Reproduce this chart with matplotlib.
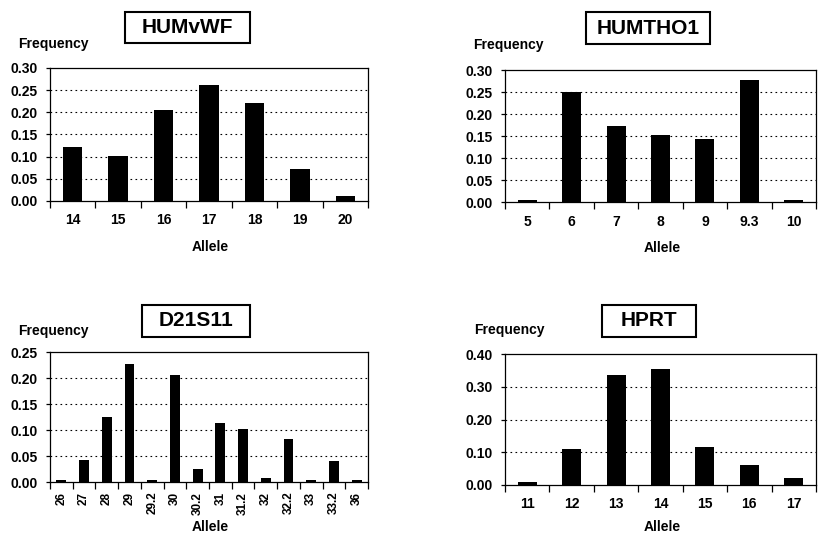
import matplotlib
matplotlib.use("Agg")
import matplotlib.pyplot as plt
from matplotlib.patches import Rectangle
from matplotlib.ticker import FormatStrFormatter

plt.rcParams['font.family'] = ['Liberation Sans', 'DejaVu Sans']
plt.rcParams['font.weight'] = 'bold'

# ---- data ----
vwf_alleles = ['14', '15', '16', '17', '18', '19', '20']
vwf_freq = [0.121, 0.102, 0.205, 0.262, 0.220, 0.073, 0.011]

tho1_alleles = ['5', '6', '7', '8', '9', '9.3', '10']
tho1_freq = [0.005, 0.251, 0.172, 0.153, 0.143, 0.277, 0.005]

d21_alleles = ['26', '27', '28', '29', '29.2', '30', '30.2', '31', '31.2',
               '32', '32.2', '33', '33.2', '36']
d21_freq = [0.004, 0.042, 0.125, 0.226, 0.004, 0.205, 0.025, 0.113, 0.101,
            0.008, 0.083, 0.003, 0.041, 0.004]

hprt_alleles = ['11', '12', '13', '14', '15', '16', '17']
hprt_freq = [0.008, 0.109, 0.337, 0.355, 0.116, 0.061, 0.021]

W, H = 818, 534
fig = plt.figure(figsize=(W / 100, H / 100), dpi=100)


def px_rect(x0, y0, x1, y1):
    return [x0 / W, 1 - y1 / H, (x1 - x0) / W, (y1 - y0) / H]


panels = [
    dict(name='HUMvWF', cats=vwf_alleles, vals=vwf_freq, ymax=0.30, step=0.05,
         ax=(50, 68, 368, 201), box=(125, 12, 250, 43), freq=(18, 44),
         allele=(210, 247), rot=0),
    dict(name='HUMTHO1', cats=tho1_alleles, vals=tho1_freq, ymax=0.30, step=0.05,
         ax=(505, 70, 816, 202), box=(586, 12, 710, 44), freq=(473, 45),
         allele=(662, 248), rot=0),
    dict(name='D21S11', cats=d21_alleles, vals=d21_freq, ymax=0.25, step=0.05,
         ax=(50, 352, 368, 482), box=(142, 305, 250, 337), freq=(18, 331),
         allele=(210, 527), rot=90),
    dict(name='HPRT', cats=hprt_alleles, vals=hprt_freq, ymax=0.40, step=0.10,
         ax=(505, 354, 816, 485), box=(602, 305, 696, 337), freq=(474, 330),
         allele=(662, 527), rot=0),
]

for p in panels:
    ax = fig.add_axes(px_rect(*p['ax']))
    n = len(p['cats'])
    x = list(range(n))
    ax.bar(x, p['vals'], width=0.43, color='black', zorder=3)
    ax.set_xlim(-0.5, n - 0.5)
    ax.set_ylim(0, p['ymax'])
    nt = int(round(p['ymax'] / p['step']))
    yt = [i * p['step'] for i in range(nt + 1)]
    ax.set_yticks(yt)
    ax.yaxis.set_major_formatter(FormatStrFormatter('%.2f'))
    for y in yt[1:-1]:
        ax.axhline(y, color='black', lw=0.8, ls=(0, (1.5, 3)), zorder=1)
    ax.set_xticks(x)
    ax.set_xticklabels(p['cats'], rotation=p['rot'])
    ax.tick_params(axis='x', which='major', length=0, pad=9 if p['rot'] == 0 else 7,
                   labelsize=10 if p['rot'] == 0 else 8.5)
    ax.set_xticks([i - 0.5 for i in range(n + 1)], minor=True)
    ax.tick_params(axis='x', which='minor', length=5, width=0.9, direction='out')
    ax.tick_params(axis='y', length=3, width=0.9, direction='out', labelsize=10, pad=6)
    for lab in ax.get_xticklabels() + ax.get_yticklabels():
        lab.set_fontweight('bold')
    for s in ax.spines.values():
        s.set_linewidth(0.9)

    bx0, by0, bx1, by1 = p['box']
    fig.patches.append(Rectangle((bx0 / W, 1 - by1 / H), (bx1 - bx0) / W, (by1 - by0) / H,
                                 transform=fig.transFigure, fill=False,
                                 edgecolor='black', lw=1.5))
    fig.text((bx0 + bx1) / 2 / W, 1 - (by0 + by1) / 2 / H, p['name'],
             ha='center', va='center', fontsize=15, fontweight='bold')
    fig.text(p['freq'][0] / W, 1 - p['freq'][1] / H, 'Frequency',
             ha='left', va='center', fontsize=10, fontweight='bold')
    fig.text(p['allele'][0] / W, 1 - p['allele'][1] / H, 'Allele',
             ha='center', va='center', fontsize=10, fontweight='bold')

fig.savefig('out.png', dpi=100)
